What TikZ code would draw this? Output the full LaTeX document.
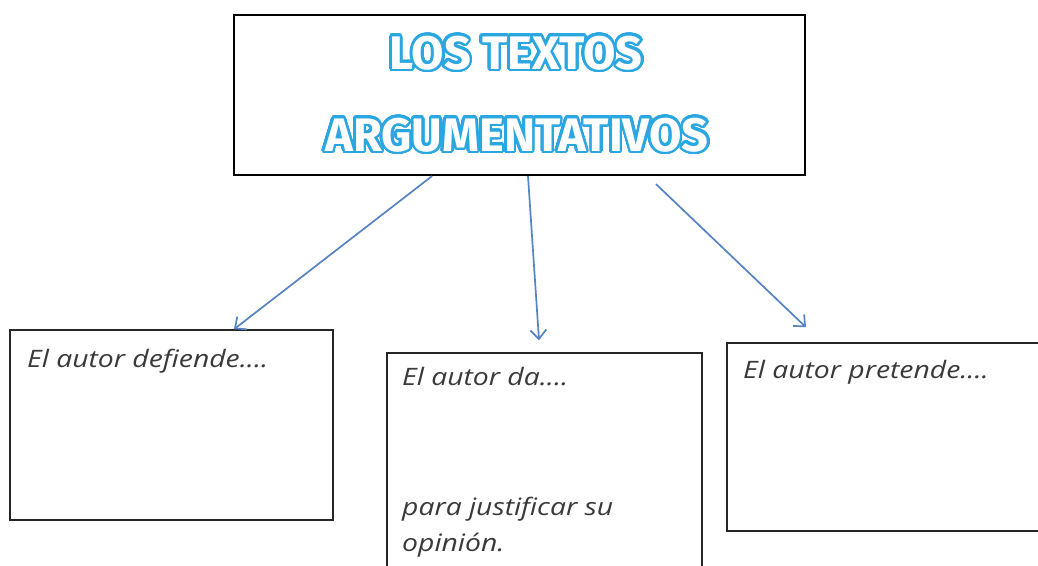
\documentclass[tikz,border=0pt]{standalone}
\usepackage{fontspec}
\usepackage{contour}
\usetikzlibrary{arrows.meta}
\setmainfont{Open Sans}
\newfontfamily\titlefont{Fira Sans}
\newfontfamily\handfont{Open Sans}[ItalicFeatures={FakeStretch=1.18}]
\definecolor{titleblue}{HTML}{2AA6E0}
\definecolor{arrowblue}{HTML}{5683C2}
\definecolor{handgray}{HTML}{3A3A3A}
\contourlength{2.6pt}
\contournumber{32}
\begin{document}
\begin{tikzpicture}[x=1pt,y=-1pt,
  frame/.style={draw=black!85, line width=1.5pt, inner sep=0pt},
  ttl/.style={font=\titlefont\bfseries\fontsize{47}{47}\selectfont, inner sep=0pt, anchor=base},
  hand/.style={font=\handfont\itshape\fontsize{24}{28}\selectfont, text=handgray, anchor=base west, inner sep=0pt},
  arr/.style={draw=arrowblue, line width=1.7pt, -{Straight Barb[length=9pt,width=16pt]}}]
\useasboundingbox (0,0) rectangle (1038,565);
\clip (0,0) rectangle (1038,565);
\fill[white] (0,0) rectangle (1038,565);
% title
\node[frame, draw=black, line width=2.2pt, minimum width=571pt, minimum height=160pt] (title) at (519.5,95) {};
\node[ttl] (t1) at (516,69) {\contour{titleblue}{\textcolor{white}{LOS TEXTOS}}};
\node[ttl] (t2) at (517,151) {\contour{titleblue}{\textcolor{white}{ARGUMENTATIVOS}}};
% boxes
\node[frame, minimum width=323pt, minimum height=190pt] (box1) at (171.5,425) {};
\node[frame, minimum width=315pt, minimum height=240pt] (box2) at (544.5,473) {};
\node[frame, minimum width=315pt, minimum height=188pt] (box3) at (884.5,437) {};
% texts
\node[hand] (h1) at (27,367) {El autor defiende....};
\node[hand] (h2) at (402,385) {El autor da....};
\node[hand] (h3) at (402,515) {para justificar su};
\node[hand] (h4) at (402,551) {opinión.};
\node[hand] (h5) at (743,378) {El autor pretende....};
% arrows
\draw[arr] ([xshift=-87.5pt]title.south) -- ([xshift=62.5pt]box1.north);
\draw[arr] ([xshift=8.5pt]title.south) -- ([xshift=-5.5pt,yshift=12pt]box2.north);
\draw[arr] ([xshift=136.5pt,yshift=-8pt]title.south) -- ([xshift=-78.5pt,yshift=15pt]box3.north);
\end{tikzpicture}
\end{document}
